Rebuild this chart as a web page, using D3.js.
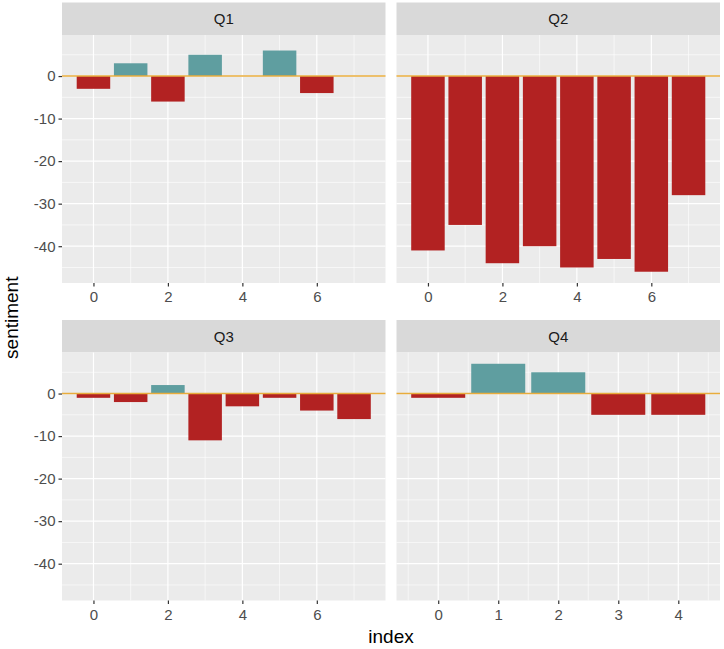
<!DOCTYPE html>
<html>
<head>
<meta charset="utf-8">
<script src="https://cdn.jsdelivr.net/npm/d3@7"></script>
<style>
    body { margin: 0; background: #fff; }
    text { font-family: "Liberation Sans", Arial, sans-serif; }
</style>
</head>
<body>
<div id="chart"></div>
<script>
// sentiment per index, one array per quarter
const quarters = ['Q1', 'Q2', 'Q3', 'Q4'];
const q1Sentiment = [-3, 3, -6, 5, 0, 6, -4, 0];
const q2Sentiment = [-41, -35, -44, -40, -45, -43, -46, -28];
const q3Sentiment = [-1, -2, 2, -11, -3, -1, -4, -6];
const q4Sentiment = [-1, 7, 5, -5, -5];
const sentimentByQuarter = [q1Sentiment, q2Sentiment, q3Sentiment, q4Sentiment];

const xTicksLong = [0, 2, 4, 6];
const xMinorLong = [1, 3, 5, 7];
const xTicksShort = [0, 1, 2, 3, 4];
const xMinorShort = [-0.5, 0.5, 1.5, 2.5, 3.5, 4.5];
const yTicks = [0, -10, -20, -30, -40];
const yMinor = [5, -5, -15, -25, -35, -45];

const width = 724;
const height = 649;
const margins = {top: 2.5, left: 62};
const panelW = 323.5;
const panelH = 248;
const stripH = 32.5;
const colGap = 11;
const rowGap = 37;
const barWidth = 0.9;

const posColor = '#5F9EA0';
const negColor = '#B22222';

const svg = d3.select('#chart')
    .append('svg')
    .attr('width', width)
    .attr('height', height);

// shared y scale with ggplot's 5% expansion
const allValues = sentimentByQuarter.flat().concat([0]);
const yLo = d3.min(allValues), yHi = d3.max(allValues);
const yPad = (yHi - yLo) * 0.05;
const yScale = d3.scaleLinear()
    .domain([yLo - yPad, yHi + yPad])
    .range([panelH, 0]);

quarters.forEach((q, i) => {
    const values = sentimentByQuarter[i];
    const col = i % 2, row = Math.floor(i / 2);
    const left = margins.left + col * (panelW + colGap);
    const top = margins.top + row * (stripH + panelH + rowGap);

    const lo = -barWidth / 2, hi = values.length - 1 + barWidth / 2;
    const xPad = (hi - lo) * 0.05;
    const xScale = d3.scaleLinear()
        .domain([lo - xPad, hi + xPad])
        .range([0, panelW]);
    const short = values.length < 8;
    const xTicks = short ? xTicksShort : xTicksLong;
    const xMinor = short ? xMinorShort : xMinorLong;

    // strip
    svg.append('rect')
        .attr('x', left).attr('y', top)
        .attr('width', panelW).attr('height', stripH)
        .attr('fill', '#D9D9D9');
    svg.append('text')
        .attr('x', left + panelW / 2).attr('y', top + stripH / 2)
        .attr('dy', '0.36em')
        .attr('text-anchor', 'middle')
        .attr('font-size', 15)
        .attr('fill', '#1A1A1A')
        .text(q);

    const g = svg.append('g')
        .attr('transform', `translate(${left}, ${top + stripH})`);

    g.append('rect')
        .attr('width', panelW).attr('height', panelH)
        .attr('fill', '#EBEBEB');

    // grid
    g.selectAll('.ymin').data(yMinor).enter().append('line')
        .attr('x1', 0).attr('x2', panelW)
        .attr('y1', d => yScale(d)).attr('y2', d => yScale(d))
        .attr('stroke', '#fff').attr('stroke-width', 0.6);
    g.selectAll('.xmin').data(xMinor).enter().append('line')
        .attr('y1', 0).attr('y2', panelH)
        .attr('x1', d => xScale(d)).attr('x2', d => xScale(d))
        .attr('stroke', '#fff').attr('stroke-width', 0.6);
    g.selectAll('.ymaj').data(yTicks).enter().append('line')
        .attr('x1', 0).attr('x2', panelW)
        .attr('y1', d => yScale(d)).attr('y2', d => yScale(d))
        .attr('stroke', '#fff').attr('stroke-width', 1.2);
    g.selectAll('.xmaj').data(xTicks).enter().append('line')
        .attr('y1', 0).attr('y2', panelH)
        .attr('x1', d => xScale(d)).attr('x2', d => xScale(d))
        .attr('stroke', '#fff').attr('stroke-width', 1.2);

    // bars
    g.selectAll('.bar').data(values).enter().append('rect')
        .attr('x', (v, k) => xScale(k - barWidth / 2))
        .attr('width', xScale(barWidth) - xScale(0))
        .attr('y', v => yScale(Math.max(v, 0)))
        .attr('height', v => Math.abs(yScale(v) - yScale(0)))
        .attr('fill', v => v > 0 ? posColor : negColor);

    // zero line
    g.append('line')
        .attr('x1', 0).attr('x2', panelW)
        .attr('y1', yScale(0)).attr('y2', yScale(0))
        .attr('stroke', '#E8AC3C').attr('stroke-width', 1.6);

    // x axis
    const xAxis = g.append('g')
        .attr('transform', `translate(0, ${panelH})`)
        .call(d3.axisBottom(xScale).tickValues(xTicks).tickSize(3.5).tickPadding(5).tickFormat(d => String(d)));
    xAxis.select('.domain').remove();

    if (col === 0) {
        const yAxis = g.append('g')
            .call(d3.axisLeft(yScale).tickValues(yTicks).tickSize(3.5).tickPadding(3).tickFormat(d => String(d)));
        yAxis.select('.domain').remove();
    }
});

svg.selectAll('.tick line').attr('stroke', '#333').attr('stroke-width', 1.2);
svg.selectAll('.tick text')
    .attr('font-family', '"Liberation Sans", Arial, sans-serif')
    .attr('font-size', 15)
    .attr('fill', '#4D4D4D');

// axis titles
svg.append('text')
    .attr('x', margins.left + panelW + colGap / 2)
    .attr('y', 643)
    .attr('text-anchor', 'middle')
    .attr('font-size', 19)
    .attr('fill', '#000')
    .text('index');

svg.append('text')
    .attr('transform', `translate(18, ${margins.top + stripH + panelH + rowGap / 2 + stripH / 2}) rotate(-90)`)
    .attr('text-anchor', 'middle')
    .attr('font-size', 19)
    .attr('fill', '#000')
    .text('sentiment');
</script>
</body>
</html>
